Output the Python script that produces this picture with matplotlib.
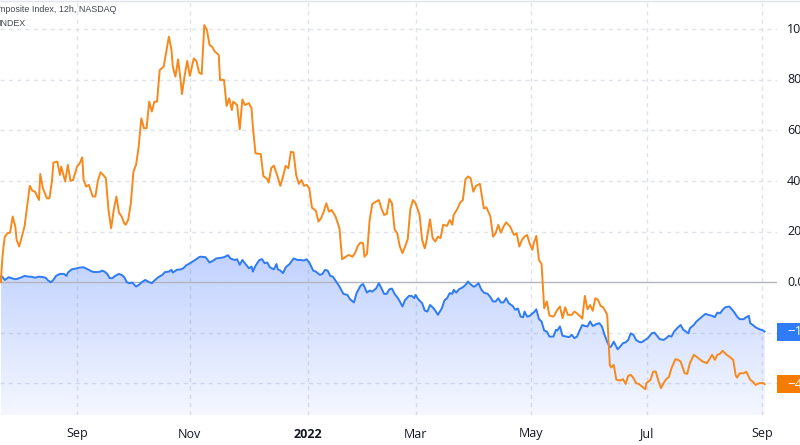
import numpy as np
import pandas as pd
import matplotlib
matplotlib.use("Agg")
import matplotlib.pyplot as plt
from matplotlib.patches import Rectangle
from matplotlib.transforms import blended_transform_factory

plt.rcParams['font.family'] = ['Open Sans', 'DejaVu Sans']

# ---------------- data ----------------
start_date = '2021-07-22'
end_date = '2022-09-09'
tick_dates = ['2021-09-01', '2021-11-01', '2022-01-03', '2022-03-01',
              '2022-05-02', '2022-07-01', '2022-09-01']
tick_labels = ['Sep', 'Nov', '2022', 'Mar', 'May', 'Jul', 'Sep']
y_ticks = [100, 80, 60, 40, 20, 0]
title_line1 = 'Nasdaq Composite Index, 12h, NASDAQ'
title_line2 = 'INDEX'

# 12h bar index (two bars per trading day) and % change
blue_bar = [0, 1, 3, 6, 8, 11, 13, 16, 18, 21, 23, 26, 29, 31, 34, 36, 38, 40, 42, 45,
            48, 50, 51, 54, 57, 60, 63, 65, 68, 70, 73, 76, 77, 79, 81, 83, 85, 87, 90, 92,
            94, 96, 98, 100, 103, 105, 107, 110, 112, 115, 117, 120, 123, 125, 128, 130, 131, 134, 137, 139,
            141, 143, 145, 148, 151,
            152, 156, 159, 162, 164, 167, 170, 173, 175, 178, 180, 182, 184, 186, 189, 191, 192, 194, 197, 199,
            201, 203, 205, 208, 210, 211, 213, 215, 217, 220, 223, 226, 228, 231, 233, 235, 238, 240, 243, 245,
            247, 249, 251, 253, 256, 258, 261, 264, 266, 269, 271, 274, 276, 279, 281, 283, 286, 288, 290, 292,
            294, 296,
            298, 300, 302, 304, 306, 308, 311, 313, 315, 316, 318, 321, 323, 325, 327, 329, 331, 333, 336, 338,
            340, 342, 344, 345, 347, 349, 352, 354, 356, 357, 360, 361, 364, 366, 368, 371, 373, 375, 377, 379,
            381, 383, 385, 387, 390, 392, 394, 396, 398, 399, 401, 403, 405, 406, 408, 410, 412, 414, 416, 418,
            421, 423, 424, 426, 428, 431, 433, 435, 437, 439, 441,
            443, 445, 447, 449, 451, 454, 456, 458, 460, 462, 464, 465, 467, 470, 472, 474, 476, 478, 480, 482,
            484, 486, 488, 491, 493, 496, 498, 500, 502, 505, 507, 509, 511, 513, 516, 518, 520, 522, 524, 525,
            528, 530, 532, 535, 537, 539, 542, 544, 546, 548, 550, 552, 555, 557, 559, 561, 563, 566, 568, 570,
            571, 573, 575, 578, 581, 582]
blue_pct = [2.2, 2.2, 0.9, 2.0, 1.6, 1.2, 1.4, 2.0, 2.5, 2.2, 2.2, 1.8, 2.2, 2.1, 1.8, 0.7, 0.0, 0.9, 2.5, 3.3,
            3.3, 2.5, 3.8, 5.1, 5.4, 5.8, 5.9, 5.4, 4.6, 4.1, 4.0, 4.2, 4.6, 4.2, 3.3, 1.6, 1.6, 2.5, 3.3, 2.9,
            2.0, 0.0, -0.4, -0.1, -1.7, -1.1, -0.1, 0.9, 0.3, -0.4, 0.7, 2.0, 2.9, 4.0, 4.2, 4.9, 3.8, 4.9, 5.1, 5.5,
            6.6, 7.2, 7.8, 8.8, 9.9,
            10.1, 9.9, 7.8, 8.6, 9.4, 9.6, 9.9, 10.7, 9.4, 8.8, 9.1, 6.9, 8.8, 7.5, 5.5, 6.2, 4.2, 6.5, 8.8, 9.1,
            7.5, 7.8, 5.9, 5.1, 7.2, 5.1, 4.6, 3.6, 5.9, 7.2, 9.4, 8.8, 8.8, 8.6, 9.1, 7.8, 4.6, 4.2, 2.9, 3.3,
            4.9, 4.6, 2.5, 2.2, -0.1, -1.7, -4.6, -5.0, -6.7, -8.0, -4.3, -1.4, -0.7, -4.1, -3.3, -3.7, -2.4, -0.4, -2.4, -4.6,
            -4.6, -2.8,
            -2.5, -4.6, -5.9, -7.6, -9.6, -7.0, -5.4, -5.4, -6.3, -5.0, -6.7, -8.3, -11.2, -11.6, -9.0, -9.9, -11.2, -12.9, -10.3, -7.2,
            -6.3, -4.3, -4.6, -3.0, -4.1, -2.8, -2.0, -1.1, 0.3, -0.4, -1.7, -1.7, -0.4, -2.8, -4.1, -4.6, -5.9, -7.6, -7.6, -6.3,
            -8.0, -8.0, -6.3, -8.3, -9.4, -10.9, -10.4, -13.6, -13.8, -11.6, -13.6, -13.3, -12.3, -12.0, -10.7, -14.6, -15.5, -19.1, -19.5, -21.5,
            -21.5, -18.8, -19.1, -17.5, -21.2, -21.5, -21.7, -20.8, -22.1, -21.5, -19.1,
            -16.9, -17.3, -17.5, -15.5, -17.3, -16.5, -16.2, -17.5, -20.8, -23.5, -25.7, -25.4, -23.5, -26.5, -25.4, -24.1, -23.8, -22.8, -20.2, -20.8,
            -22.8, -23.5, -23.8, -22.8, -22.1, -20.2, -19.9, -21.2, -22.5, -22.8, -22.1, -21.2, -21.5, -19.5, -17.8, -16.9, -18.8, -19.5, -20.2, -18.2,
            -16.9, -15.5, -14.6, -13.3, -12.5, -12.9, -13.3, -13.8, -12.0, -12.3, -10.9, -9.9, -9.6, -10.7, -12.0, -13.6, -14.6, -14.6, -13.8, -13.3,
            -16.2, -16.9, -17.8, -18.6, -19.1, -19.5]

orange_bar = [0, 1, 2, 3, 5, 7, 9, 11, 12, 14, 16, 18, 20, 22, 24, 26, 29, 30, 32, 35,
              37, 39, 40, 43, 45, 46, 49, 51, 53, 55, 58, 60, 62, 63, 65, 67, 70, 72, 74, 76,
              78, 80, 82, 84, 86, 88, 90, 92, 94, 95, 97, 99, 101, 103, 105, 107, 109, 111, 113, 115,
              117, 119, 121, 124, 126, 128, 130, 131, 133, 135, 137, 138, 140, 142, 144, 147, 149, 151,
              153, 155, 157, 159, 161, 163, 166, 167, 170, 172, 174, 176, 177, 180, 182, 184, 186, 189, 191, 192,
              194, 198, 200, 203, 204, 206, 208, 210, 213, 215, 217, 219, 221, 223, 225, 227, 229, 231, 233, 235,
              237, 240, 242, 244, 246, 248, 250, 252, 255, 258, 260, 263, 265, 268, 270, 272, 274, 276, 277, 279,
              281, 283, 286, 288, 290, 292, 294, 296,
              298, 300, 302, 304, 306, 308, 310, 312, 314, 316, 319, 321, 323, 324, 327, 329, 331, 333, 335, 337,
              340, 342, 344, 345, 348, 350, 352, 354, 356, 358, 360, 362, 365, 366, 368, 370, 373, 375, 377, 379,
              381, 383, 385, 388, 391, 393, 395, 397, 399, 401, 403, 405, 406, 408, 410, 412, 413, 414, 416, 418,
              421, 422, 424, 426, 428, 430, 432, 435, 437, 439, 441,
              443, 445, 447, 449, 451, 453, 455, 457, 459, 462, 463, 464, 465, 467, 469, 472, 474, 476, 478, 480,
              482, 484, 486, 488, 491, 492, 495, 497, 499, 501, 503, 505, 507, 509, 511, 514, 516, 518, 521, 523,
              525, 528, 530, 533, 535, 538, 540, 542, 544, 546, 548, 550, 553, 555, 558, 560, 561, 563, 566, 568,
              571, 573, 575, 578, 581, 582]
orange_pct = [0.0, 8.8, 14.1, 18.0, 19.4, 19.6, 26.0, 22.0, 16.7, 14.1, 18.0, 22.0, 29.9, 38.1, 36.2, 35.8, 32.5, 42.8, 37.2, 33.2,
              33.2, 40.4, 47.3, 47.7, 42.4, 45.7, 39.8, 46.4, 40.1, 40.4, 45.7, 47.0, 49.4, 40.4, 37.8, 38.5, 33.9, 33.9, 40.4, 43.5,
              42.4, 41.1, 28.6, 21.3, 28.6, 33.9, 27.5, 26.0, 23.3, 22.7, 24.6, 31.2, 43.7, 46.4, 53.6, 64.8, 60.9, 60.9, 71.4, 67.5,
              71.4, 71.4, 83.9, 85.2, 91.2, 97.1, 91.8, 85.2, 81.3, 88.1, 79.6, 74.4, 81.6, 87.5, 81.6, 88.5, 87.5, 82.9,
              82.3, 101.7, 99.7, 93.8, 93.1, 91.2, 89.9, 80.0, 80.0, 69.7, 72.7, 68.1, 71.4, 70.1, 60.5, 72.3, 70.1, 70.8, 68.8, 61.5,
              51.0, 50.7, 42.0, 40.8, 39.4, 45.1, 46.1, 43.1, 38.1, 41.8, 46.0, 45.1, 51.6, 51.3, 42.4, 38.9, 40.4, 38.1, 38.5, 37.2,
              29.5, 28.3, 24.0, 25.3, 27.9, 31.2, 27.9, 28.6, 26.0, 21.3, 9.1, 10.1, 10.8, 10.1, 11.7, 14.4, 15.7, 15.4, 10.1, 11.2,
              24.6, 31.0, 31.9, 32.5, 29.2, 26.6, 27.0, 32.9,
              31.2, 20.9, 19.4, 14.1, 11.5, 14.1, 17.0, 28.9, 32.5, 31.2, 26.6, 16.7, 13.4, 15.4, 24.9, 17.4, 16.1, 18.0, 17.4, 22.7,
              22.3, 24.6, 22.7, 26.6, 29.2, 31.5, 32.5, 40.7, 41.8, 41.1, 35.8, 38.1, 38.9, 35.8, 29.2, 29.6, 26.0, 18.0, 19.4, 22.7,
              19.6, 22.0, 23.7, 22.0, 18.7, 19.4, 14.1, 16.7, 18.0, 18.7, 15.2, 12.8, 15.4, 18.3, 8.8, 7.2, -1.7, -10.3, -7.6, -13.2,
              -13.6, -12.9, -10.9, -9.6, -14.2, -9.9, -12.9, -12.9, -11.6, -12.3, -13.3,
              -14.4, -5.4, -10.7, -9.0, -11.3, -6.3, -7.0, -9.4, -9.9, -12.9, -22.8, -32.7, -33.7, -32.7, -38.6, -38.9, -38.3, -40.2, -37.0, -36.6,
              -37.9, -39.9, -40.2, -41.0, -42.3, -39.9, -38.6, -35.4, -35.3, -39.0, -41.9, -39.9, -38.3, -37.5, -34.0, -30.4, -30.7, -31.4, -36.0, -36.2,
              -32.0, -28.7, -29.4, -30.7, -31.4, -32.0, -30.4, -28.7, -30.7, -28.7, -28.3, -27.1, -28.7, -29.4, -30.7, -37.0, -37.7, -36.0, -36.0, -35.4,
              -38.6, -39.3, -40.6, -39.9, -39.9, -40.3]

# ---------------- styling ----------------
BLUE = '#2f7bf4'
ORANGE = '#f7891c'
ORANGE_BADGE = '#f57c00'
BLUE_BADGE = '#2f7cf6'
GRID = '#e0e3eb'
TEXT = '#131722'

W, H = 800, 445
fig = plt.figure(figsize=(W / 100, H / 100), dpi=100)
ax = fig.add_axes([0, 1 - 415 / H, 777 / W, 415 / H])
YMIN, YMAX = -52.5, 111.6
for s in ax.spines.values():
    s.set_visible(False)

# x ticks from trading-day calendar (2 bars / day)
days = pd.bdate_range(start_date, end_date)
tick_pos = days.get_indexer(pd.to_datetime(tick_dates)) * 2
ax.set_xticks(tick_pos)
ax.set_xticklabels(tick_labels, fontsize=9, color=TEXT)
for lab, t in zip(ax.get_xticklabels(), tick_labels):
    if t == '2022':
        lab.set_fontweight('bold')
ax.tick_params(axis='x', length=0, pad=9)
ax.set_yticks([])

# grid
for xp in tick_pos:
    ax.axvline(xp, color=GRID, lw=1, ls=(0, (3, 3)), zorder=1)
for yv in [100, 80, 60, 40, 20, -20, -40]:
    ax.axhline(yv, color=GRID, lw=1, ls=(0, (3, 3)), zorder=1)
ax.axhline(0, color='#b2b5be', lw=1, zorder=2)

# gradient area under blue
poly = ax.fill_between(blue_bar, blue_pct, YMIN, color='none', lw=0)
top_v = max(blue_pct)
grad = np.linspace(0, 1, 256).reshape(-1, 1)
rgba = np.zeros((256, 1, 4))
rgba[..., 0] = 41 / 255
rgba[..., 1] = 98 / 255
rgba[..., 2] = 255 / 255
rgba[..., 3] = 0.05 + 0.24 * (1 - grad)
im = ax.imshow(rgba, extent=[blue_bar[0], blue_bar[-1], YMIN, top_v],
               aspect='auto', origin='upper', zorder=1.5, interpolation='bilinear')
im.set_clip_path(poly.get_paths()[0], transform=ax.transData)
ax.set_xlim(-0.68, 591.4)
ax.set_ylim(YMIN, YMAX)

ax.plot(blue_bar, blue_pct, color=BLUE, lw=1.4, zorder=3, solid_joinstyle='round')
ax.plot(orange_bar, orange_pct, color=ORANGE, lw=1.4, zorder=4, solid_joinstyle='round')

# right price scale labels (cropped by image edge)
tr = blended_transform_factory(fig.transFigure, ax.transData)
for yv in y_ticks:
    ax.text(787 / W, yv, f'{yv:.2f}%', transform=tr, ha='left', va='center',
            fontsize=9, color=TEXT, clip_on=False)

# last-value badges
bh = 18 / 2.53
for val, col in [(blue_pct[-1], BLUE_BADGE), (orange_pct[-1], ORANGE_BADGE)]:
    r = Rectangle((777 / W, val - bh / 2), 0.1, bh, transform=tr, facecolor=col,
                  edgecolor='none', clip_on=False, zorder=6)
    ax.add_patch(r)
    ax.text(787 / W, val, f'\u2212{abs(val):.2f}%', transform=tr, ha='left', va='center',
            fontsize=9.5, color='white', clip_on=False, zorder=7)

# top border of the pane
fig.add_artist(plt.Line2D([0, 1], [1 - 0.5 / H, 1 - 0.5 / H], color='#e0e3eb', lw=1))

# header legend (cropped)
fig.text(116 / W, 1 - 10 / H, title_line1, ha='right', va='center', fontsize=6.4,
         color='#434651', family=['Liberation Sans', 'DejaVu Sans'])
fig.text(25 / W, 1 - 23 / H, title_line2, ha='right', va='center', fontsize=6.4,
         color='#434651', family=['Liberation Sans', 'DejaVu Sans'])

fig.savefig('out.png', dpi=100)
